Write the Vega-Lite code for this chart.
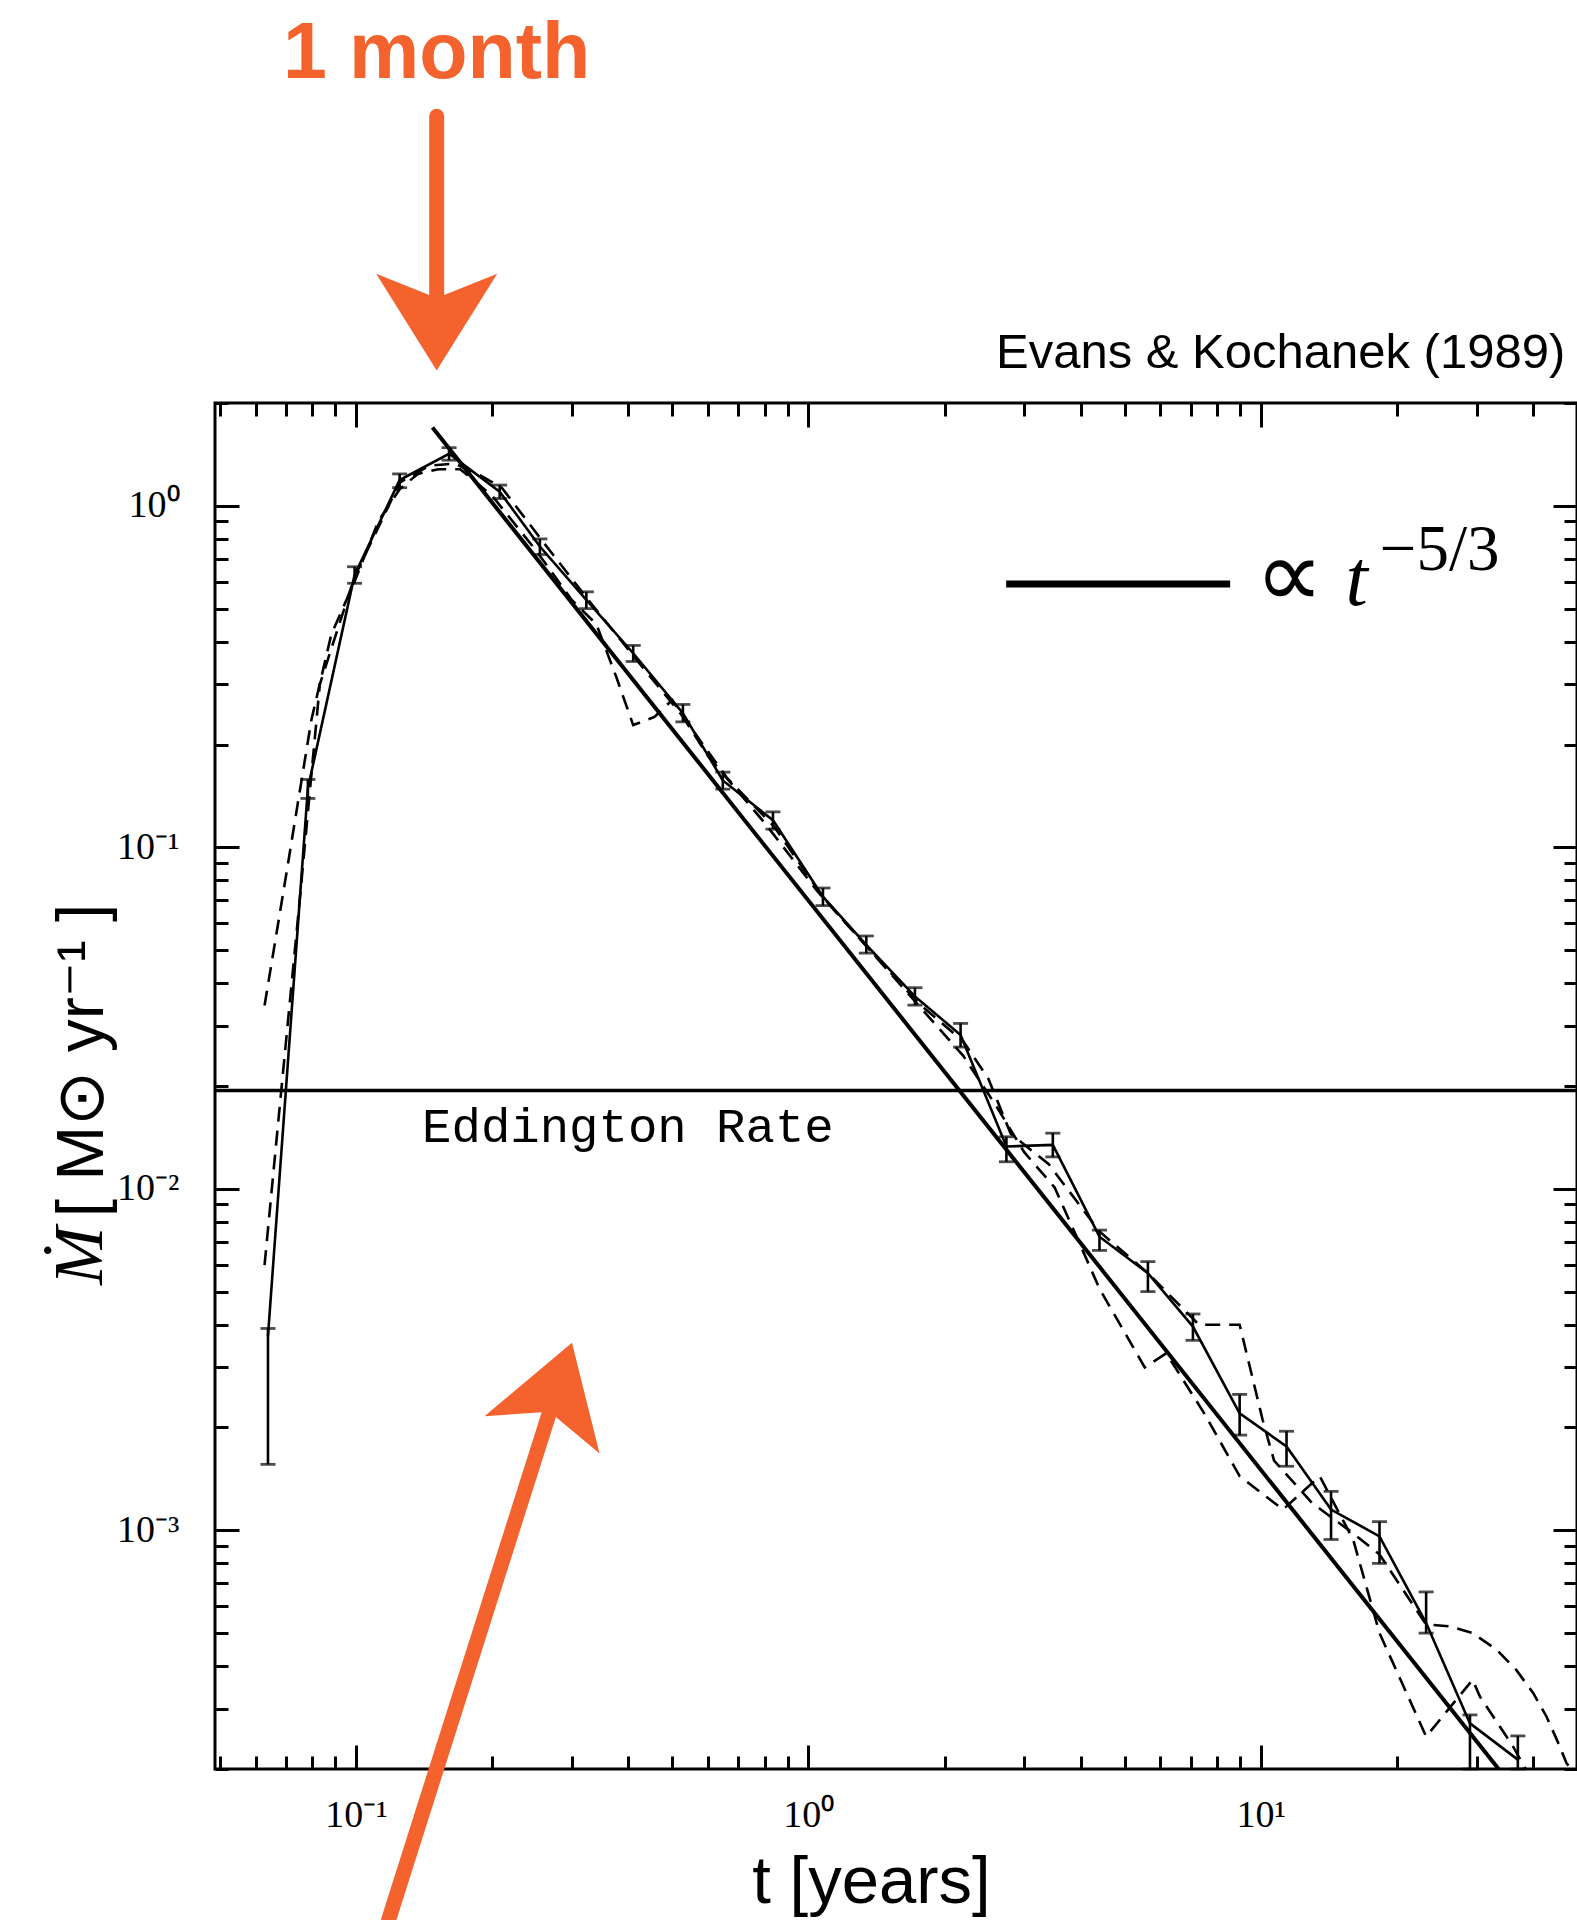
{
  "$schema": "https://vega.github.io/schema/vega-lite/v6.json",
  "width": 1362,
  "height": 1366,
  "autosize": {"type": "none"},
  "padding": {"left": 215, "top": 403, "right": 0, "bottom": 151},
  "background": "white",
  "config": {
    "view": {"stroke": "black", "strokeWidth": 3},
    "axis": {"grid": false, "domain": false, "tickColor": "black", "tickWidth": 3, "labelColor": "black", "titleColor": "black", "zindex": 1, "labelOverlap": false, "labelFlush": false, "labelBound": false}
  },
  "datasets": {
    "sim": [
      {"t": 0.0639, "M": 0.00371, "lo": 0.00156, "hi": 0.0039},
      {"t": 0.0783, "M": 0.149, "lo": 0.139, "hi": 0.158},
      {"t": 0.0993, "M": 0.627, "lo": 0.593, "hi": 0.663},
      {"t": 0.1249, "M": 1.19, "lo": 1.13, "hi": 1.24},
      {"t": 0.1606, "M": 1.42, "lo": 1.36, "hi": 1.48},
      {"t": 0.2078, "M": 1.10, "lo": 1.05, "hi": 1.15},
      {"t": 0.255, "M": 0.76, "lo": 0.72, "hi": 0.80},
      {"t": 0.323, "M": 0.53, "lo": 0.50, "hi": 0.56},
      {"t": 0.41, "M": 0.37, "lo": 0.35, "hi": 0.39},
      {"t": 0.528, "M": 0.247, "lo": 0.233, "hi": 0.262},
      {"t": 0.647, "M": 0.157, "lo": 0.148, "hi": 0.166},
      {"t": 0.835, "M": 0.120, "lo": 0.113, "hi": 0.127},
      {"t": 1.077, "M": 0.0717, "lo": 0.0675, "hi": 0.076},
      {"t": 1.343, "M": 0.0518, "lo": 0.049, "hi": 0.055},
      {"t": 1.72, "M": 0.0366, "lo": 0.0345, "hi": 0.0388},
      {"t": 2.17, "M": 0.0282, "lo": 0.026, "hi": 0.0305},
      {"t": 2.74, "M": 0.0133, "lo": 0.012, "hi": 0.0142},
      {"t": 3.47, "M": 0.01345, "lo": 0.0124, "hi": 0.01455},
      {"t": 4.40, "M": 0.00724, "lo": 0.0066, "hi": 0.00757},
      {"t": 5.63, "M": 0.00566, "lo": 0.0050, "hi": 0.00612},
      {"t": 7.08, "M": 0.00395, "lo": 0.0036, "hi": 0.0043},
      {"t": 8.98, "M": 0.0022, "lo": 0.0019, "hi": 0.0025},
      {"t": 11.4, "M": 0.00176, "lo": 0.00154, "hi": 0.00195},
      {"t": 14.3, "M": 0.00115, "lo": 0.00094, "hi": 0.0013},
      {"t": 18.3, "M": 0.00096, "lo": 0.0008, "hi": 0.00106},
      {"t": 23.2, "M": 0.000535, "lo": 0.0005, "hi": 0.00066},
      {"t": 29.0, "M": 0.000272, "lo": 0.0002, "hi": 0.000288},
      {"t": 37.0, "M": 0.000213, "lo": 0.0002, "hi": 0.00025}
    ],
    "dashed": [
      {"s": "A", "t": 0.0628, "M": 0.0344}, {"s": "A", "t": 0.0702, "M": 0.084}, {"s": "A", "t": 0.0797, "M": 0.236},
      {"s": "A", "t": 0.0882, "M": 0.42}, {"s": "A", "t": 0.0993, "M": 0.60}, {"s": "A", "t": 0.112, "M": 0.90},
      {"s": "A", "t": 0.125, "M": 1.12}, {"s": "A", "t": 0.137, "M": 1.24}, {"s": "A", "t": 0.152, "M": 1.28},
      {"s": "A", "t": 0.17, "M": 1.28}, {"s": "A", "t": 0.20, "M": 1.07}, {"s": "A", "t": 0.25, "M": 0.74},
      {"s": "A", "t": 0.30, "M": 0.53}, {"s": "A", "t": 0.34, "M": 0.45}, {"s": "A", "t": 0.376, "M": 0.316},
      {"s": "A", "t": 0.41, "M": 0.228}, {"s": "A", "t": 0.457, "M": 0.241}, {"s": "A", "t": 0.50, "M": 0.27},
      {"s": "A", "t": 0.60, "M": 0.185}, {"s": "A", "t": 0.80, "M": 0.118}, {"s": "A", "t": 1.05, "M": 0.074},
      {"s": "A", "t": 1.35, "M": 0.051}, {"s": "A", "t": 1.75, "M": 0.0345}, {"s": "A", "t": 2.2, "M": 0.0245},
      {"s": "A", "t": 2.6, "M": 0.0175}, {"s": "A", "t": 3.0, "M": 0.0128}, {"s": "A", "t": 3.5, "M": 0.0101},
      {"s": "A", "t": 4.0, "M": 0.0068}, {"s": "A", "t": 4.4, "M": 0.0051}, {"s": "A", "t": 5.54, "M": 0.0030},
      {"s": "A", "t": 6.18, "M": 0.0033}, {"s": "A", "t": 7.5, "M": 0.0022}, {"s": "A", "t": 8.98, "M": 0.00144},
      {"s": "A", "t": 11.2, "M": 0.00115}, {"s": "A", "t": 13.5, "M": 0.00144}, {"s": "A", "t": 16.0, "M": 0.00094},
      {"s": "A", "t": 18.3, "M": 0.0005}, {"s": "A", "t": 23.2, "M": 0.000249}, {"s": "A", "t": 29.4, "M": 0.000365},
      {"s": "A", "t": 30.5, "M": 0.000326}, {"s": "A", "t": 36.1, "M": 0.000233}, {"s": "A", "t": 38.5, "M": 0.0002},
      {"s": "B", "t": 0.0628, "M": 0.00598}, {"s": "B", "t": 0.068, "M": 0.018}, {"s": "B", "t": 0.0751, "M": 0.07},
      {"s": "B", "t": 0.0832, "M": 0.30}, {"s": "B", "t": 0.0993, "M": 0.62}, {"s": "B", "t": 0.125, "M": 1.17},
      {"s": "B", "t": 0.145, "M": 1.31}, {"s": "B", "t": 0.165, "M": 1.33}, {"s": "B", "t": 0.19, "M": 1.22},
      {"s": "B", "t": 0.21, "M": 1.13}, {"s": "B", "t": 0.26, "M": 0.78}, {"s": "B", "t": 0.33, "M": 0.52},
      {"s": "B", "t": 0.42, "M": 0.35}, {"s": "B", "t": 0.53, "M": 0.24}, {"s": "B", "t": 0.66, "M": 0.16},
      {"s": "B", "t": 0.84, "M": 0.115}, {"s": "B", "t": 1.08, "M": 0.071}, {"s": "B", "t": 1.35, "M": 0.051},
      {"s": "B", "t": 1.75, "M": 0.035}, {"s": "B", "t": 2.2, "M": 0.027}, {"s": "B", "t": 2.5, "M": 0.021},
      {"s": "B", "t": 2.8, "M": 0.0145}, {"s": "B", "t": 3.4, "M": 0.0118}, {"s": "B", "t": 4.4, "M": 0.0075},
      {"s": "B", "t": 5.6, "M": 0.0057}, {"s": "B", "t": 7.3, "M": 0.0040}, {"s": "B", "t": 8.98, "M": 0.0040},
      {"s": "B", "t": 10.1, "M": 0.0021}, {"s": "B", "t": 10.7, "M": 0.0016}, {"s": "B", "t": 13.0, "M": 0.0012},
      {"s": "B", "t": 16.0, "M": 0.00098}, {"s": "B", "t": 18.3, "M": 0.00085}, {"s": "B", "t": 23.2, "M": 0.00053},
      {"s": "B", "t": 26.2, "M": 0.000523}, {"s": "B", "t": 29.4, "M": 0.0005}, {"s": "B", "t": 33.2, "M": 0.000447},
      {"s": "B", "t": 36.7, "M": 0.00039}, {"s": "B", "t": 40.0, "M": 0.000334}, {"s": "B", "t": 42.8, "M": 0.000285},
      {"s": "B", "t": 45.8, "M": 0.000233}, {"s": "B", "t": 47.4, "M": 0.000208}, {"s": "B", "t": 48.5, "M": 0.0002}
    ],
    "fit": [
      {"t": 0.1476, "M": 1.696},
      {"t": 34.6, "M": 0.00019}
    ]
  },
  "layer": [
    {
      "data": {"values": [{"t": 1, "M": 1}]},
      "mark": {"type": "point", "opacity": 0},
      "encoding": {
        "x": {"field": "t", "type": "quantitative", "scale": {"type": "log", "domain": [0.0488, 50], "nice": false},
          "axis": {"orient": "bottom",
            "values": [0.05, 0.06, 0.07, 0.08, 0.09, 0.1, 0.2, 0.3, 0.4, 0.5, 0.6, 0.7, 0.8, 0.9, 1, 2, 3, 4, 5, 6, 7, 8, 9, 10, 20, 30, 40, 50],
            "labelExpr": "datum.value == 0.1 ? '10⁻¹' : datum.value == 1 ? '10⁰' : datum.value == 10 ? '10¹' : ''",
            "tickSize": {"condition": {"test": "datum.value == 0.1 || datum.value == 1 || datum.value == 10", "value": -24}, "value": -13},
            "labelFont": "Liberation Serif", "labelFontSize": 38, "labelPadding": 51, "labelBaseline": "top",
            "title": "t [years]", "titleFont": "Liberation Sans", "titleFontSize": 67, "titleFontWeight": "normal",
            "titleX": 656, "titleY": 133, "titleAlign": "center", "titleBaseline": "alphabetic"}},
        "y": {"field": "M", "type": "quantitative", "scale": {"type": "log", "domain": [0.0002, 2], "nice": false},
          "axis": {"orient": "left",
            "values": [0.0002, 0.0003, 0.0004, 0.0005, 0.0006, 0.0007, 0.0008, 0.0009, 0.001, 0.002, 0.003, 0.004, 0.005, 0.006, 0.007, 0.008, 0.009, 0.01, 0.02, 0.03, 0.04, 0.05, 0.06, 0.07, 0.08, 0.09, 0.1, 0.2, 0.3, 0.4, 0.5, 0.6, 0.7, 0.8, 0.9, 1, 2],
            "labelExpr": "datum.value == 1 ? '10⁰' : datum.value == 0.1 ? '10⁻¹' : datum.value == 0.01 ? '10⁻²' : datum.value == 0.001 ? '10⁻³' : ''",
            "tickSize": {"condition": {"test": "datum.value == 1 || datum.value == 0.1 || datum.value == 0.01 || datum.value == 0.001", "value": -24}, "value": -13},
            "labelFont": "Liberation Serif", "labelFontSize": 38, "labelPadding": 60,
            "title": "[ M⊙ yr⁻¹ ]", "titleFont": "Liberation Sans", "titleFontSize": 66, "titleFontWeight": "normal",
            "titleAngle": 270, "titleX": -113, "titleY": 657, "titleAlign": "center", "titleBaseline": "alphabetic"}}
      }
    },
    {
      "data": {"values": [{"t": 1, "M": 1}]},
      "mark": {"type": "point", "opacity": 0},
      "encoding": {
        "x": {"field": "t", "type": "quantitative", "scale": {"type": "log", "domain": [0.0488, 50], "nice": false},
          "axis": {"orient": "top", "labels": false, "title": null,
            "values": [0.05, 0.06, 0.07, 0.08, 0.09, 0.1, 0.2, 0.3, 0.4, 0.5, 0.6, 0.7, 0.8, 0.9, 1, 2, 3, 4, 5, 6, 7, 8, 9, 10, 20, 30, 40, 50],
            "tickSize": {"condition": {"test": "datum.value == 0.1 || datum.value == 1 || datum.value == 10", "value": -24}, "value": -13}}},
        "y": {"field": "M", "type": "quantitative", "scale": {"type": "log", "domain": [0.0002, 2], "nice": false},
          "axis": {"orient": "right", "labels": false, "title": null,
            "values": [0.0002, 0.0003, 0.0004, 0.0005, 0.0006, 0.0007, 0.0008, 0.0009, 0.001, 0.002, 0.003, 0.004, 0.005, 0.006, 0.007, 0.008, 0.009, 0.01, 0.02, 0.03, 0.04, 0.05, 0.06, 0.07, 0.08, 0.09, 0.1, 0.2, 0.3, 0.4, 0.5, 0.6, 0.7, 0.8, 0.9, 1, 2],
            "tickSize": {"condition": {"test": "datum.value == 1 || datum.value == 0.1 || datum.value == 0.01 || datum.value == 0.001", "value": -24}, "value": -13}}}
      }
    },
    {
      "data": {"values": [{}]},
      "mark": {"type": "rule", "color": "black", "strokeWidth": 3.5},
      "encoding": {
        "y": {"datum": 0.0194, "type": "quantitative", "scale": {"type": "log"}, "axis": null}
      }
    },
    {
      "data": {"name": "fit"},
      "mark": {"type": "line", "color": "black", "strokeWidth": 4, "clip": true},
      "encoding": {
        "x": {"field": "t", "type": "quantitative", "scale": {"type": "log"}, "axis": null},
        "y": {"field": "M", "type": "quantitative", "scale": {"type": "log"}, "axis": null}
      }
    },
    {
      "data": {"name": "dashed"},
      "mark": {"type": "line", "color": "black", "strokeWidth": 2.6, "strokeDash": [15, 9], "clip": true},
      "encoding": {
        "x": {"field": "t", "type": "quantitative", "scale": {"type": "log"}, "axis": null},
        "y": {"field": "M", "type": "quantitative", "scale": {"type": "log"}, "axis": null},
        "detail": {"field": "s"}
      }
    },
    {
      "data": {"name": "sim"},
      "mark": {"type": "line", "color": "black", "strokeWidth": 2.6, "clip": true},
      "encoding": {
        "x": {"field": "t", "type": "quantitative", "scale": {"type": "log"}, "axis": null},
        "y": {"field": "M", "type": "quantitative", "scale": {"type": "log"}, "axis": null}
      }
    },
    {
      "data": {"name": "sim"},
      "mark": {"type": "errorbar", "color": "black", "thickness": 2.6, "ticks": {"size": 15, "thickness": 2.8, "color": "black"}},
      "encoding": {
        "x": {"field": "t", "type": "quantitative", "scale": {"type": "log"}, "axis": null},
        "y": {"field": "lo", "type": "quantitative", "scale": {"type": "log"}, "axis": null},
        "y2": {"field": "hi"}
      }
    },
    {
      "data": {"values": [{}]},
      "mark": {"type": "text", "text": "Eddington Rate", "font": "Liberation Mono", "fontSize": 49, "align": "left", "baseline": "alphabetic", "color": "black"},
      "encoding": {
        "x": {"datum": 0.14, "type": "quantitative", "scale": {"type": "log"}, "axis": null},
        "y": {"datum": 0.0137, "type": "quantitative", "scale": {"type": "log"}, "axis": null}
      }
    },
    {
      "data": {"values": [{}]},
      "mark": {"type": "rule", "color": "black", "strokeWidth": 7},
      "encoding": {
        "x": {"datum": 2.736, "type": "quantitative", "scale": {"type": "log"}, "axis": null},
        "x2": {"datum": 8.556},
        "y": {"datum": 0.59, "type": "quantitative", "scale": {"type": "log"}, "axis": null}
      }
    },
    {
      "data": {"values": [{}]},
      "mark": {"type": "text", "text": "∝", "font": "Liberation Serif", "fontSize": 96, "align": "center", "baseline": "alphabetic", "color": "black"},
      "encoding": {
        "x": {"datum": 11.55, "type": "quantitative", "scale": {"type": "log"}, "axis": null},
        "y": {"datum": 0.505, "type": "quantitative", "scale": {"type": "log"}, "axis": null}
      }
    },
    {
      "data": {"values": [{}]},
      "mark": {"type": "text", "text": "t", "font": "Liberation Serif", "fontStyle": "italic", "fontSize": 80, "align": "left", "baseline": "alphabetic", "color": "black"},
      "encoding": {
        "x": {"datum": 15.4, "type": "quantitative", "scale": {"type": "log"}, "axis": null},
        "y": {"datum": 0.512, "type": "quantitative", "scale": {"type": "log"}, "axis": null}
      }
    },
    {
      "data": {"values": [{}]},
      "mark": {"type": "text", "text": "−5/3", "font": "Liberation Serif", "fontSize": 65, "align": "left", "baseline": "alphabetic", "color": "black"},
      "encoding": {
        "x": {"datum": 18.32, "type": "quantitative", "scale": {"type": "log"}, "axis": null},
        "y": {"datum": 0.648, "type": "quantitative", "scale": {"type": "log"}, "axis": null}
      }
    },
    {
      "data": {"values": [{}]},
      "mark": {"type": "text", "text": "Evans & Kochanek (1989)", "font": "Liberation Sans", "fontSize": 49, "align": "right", "baseline": "alphabetic", "color": "black"},
      "encoding": {
        "x": {"datum": 47.1, "type": "quantitative", "scale": {"type": "log"}, "axis": null},
        "y": {"datum": 2.53, "type": "quantitative", "scale": {"type": "log"}, "axis": null}
      }
    },
    {
      "data": {"values": [{}]},
      "mark": {"type": "text", "text": "Ṁ", "font": "Liberation Serif", "fontStyle": "italic", "fontSize": 70, "angle": 270, "align": "center", "baseline": "alphabetic", "color": "black"},
      "encoding": {
        "x": {"datum": 0.02741, "type": "quantitative", "scale": {"type": "log"}, "axis": null},
        "y": {"datum": 0.006361, "type": "quantitative", "scale": {"type": "log"}, "axis": null}
      }
    },
    {
      "data": {"values": [{}]},
      "mark": {"type": "text", "text": "1 month", "font": "Liberation Sans", "fontWeight": "bold", "fontSize": 79, "align": "center", "baseline": "alphabetic", "color": "#F4632E"},
      "encoding": {
        "x": {"datum": 0.1508, "type": "quantitative", "scale": {"type": "log"}, "axis": null},
        "y": {"datum": 17.87, "type": "quantitative", "scale": {"type": "log"}, "axis": null}
      }
    },
    {
      "data": {"values": [{}]},
      "mark": {"type": "rule", "color": "#F4632E", "strokeWidth": 15, "strokeCap": "round"},
      "encoding": {
        "x": {"datum": 0.1508, "type": "quantitative", "scale": {"type": "log"}, "axis": null},
        "y": {"datum": 13.83, "type": "quantitative", "scale": {"type": "log"}, "axis": null},
        "x2": {"datum": 0.1508},
        "y2": {"datum": 3.27}
      }
    },
    {
      "data": {"values": [{}]},
      "mark": {"type": "point", "shape": "M0,0.8 L-1,-0.8 L0,-0.4 L1,-0.8 Z", "size": 14641, "filled": true, "opacity": 1, "color": "#F4632E", "strokeWidth": 0},
      "encoding": {
        "x": {"datum": 0.1508, "type": "quantitative", "scale": {"type": "log"}, "axis": null},
        "y": {"datum": 3.45, "type": "quantitative", "scale": {"type": "log"}, "axis": null}
      }
    },
    {
      "data": {"values": [{}]},
      "mark": {"type": "rule", "color": "#F4632E", "strokeWidth": 15, "strokeCap": "round"},
      "encoding": {
        "x": {"datum": 0.1181, "type": "quantitative", "scale": {"type": "log"}, "axis": null},
        "y": {"datum": 0.0000724, "type": "quantitative", "scale": {"type": "log"}, "axis": null},
        "x2": {"datum": 0.2782},
        "y2": {"datum": 0.002596}
      }
    },
    {
      "data": {"values": [{}]},
      "mark": {"type": "point", "shape": "M0,0.8 L-1,-0.8 L0,-0.4 L1,-0.8 Z", "size": 14641, "filled": true, "opacity": 1, "angle": 198, "color": "#F4632E", "strokeWidth": 0},
      "encoding": {
        "x": {"datum": 0.2782, "type": "quantitative", "scale": {"type": "log"}, "axis": null},
        "y": {"datum": 0.002596, "type": "quantitative", "scale": {"type": "log"}, "axis": null}
      }
    }
  ],
  "resolve": {"axis": {"x": "independent", "y": "independent"}}
}
